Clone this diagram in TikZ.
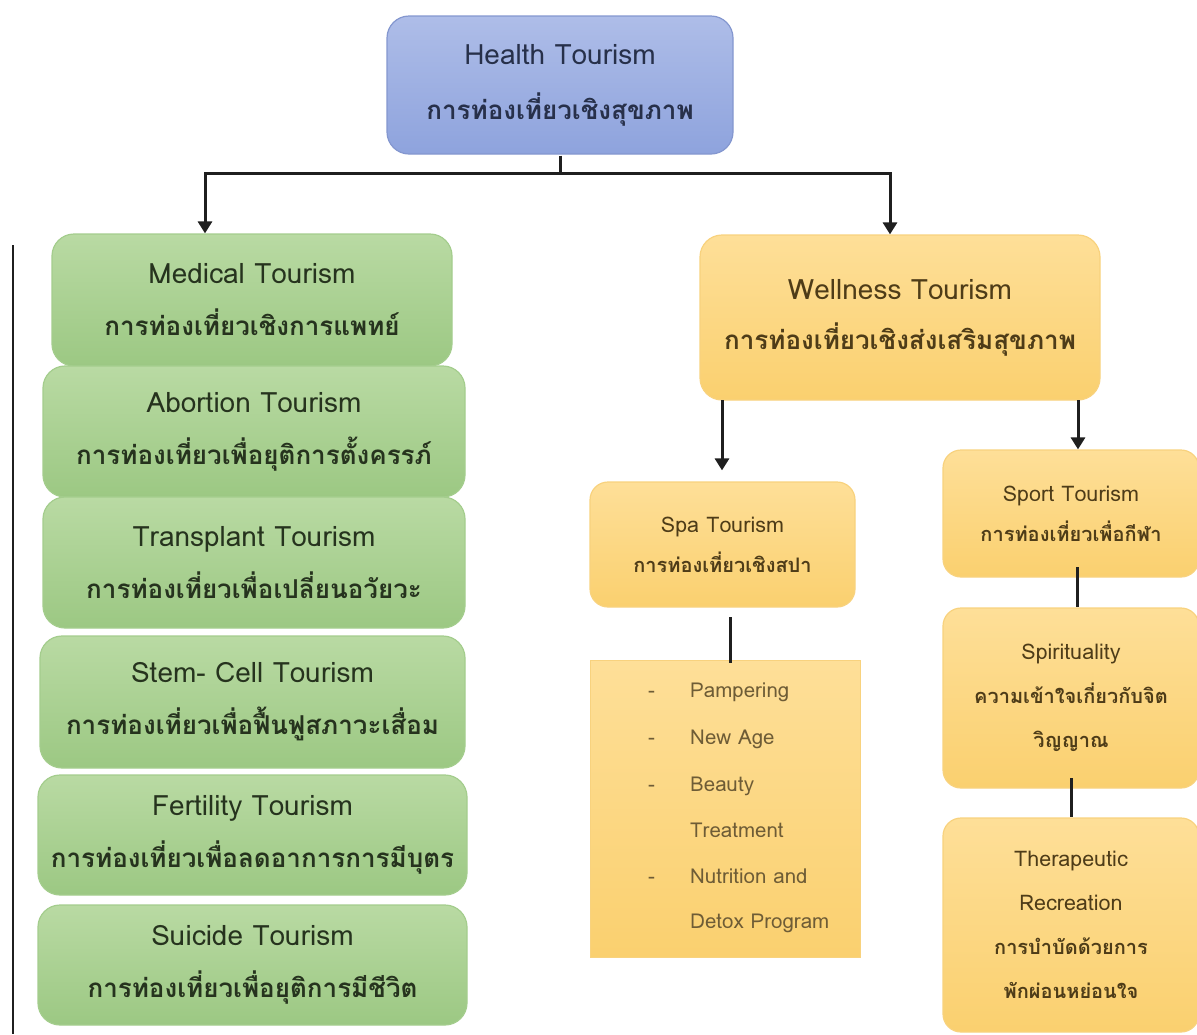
\documentclass[tikz,border=0pt]{standalone}
\usepackage{fontspec}
\setmainfont[Script=Thai]{Loma}
\usetikzlibrary{arrows.meta}

\definecolor{blueTop}{HTML}{AEBDE8}
\definecolor{blueBot}{HTML}{8EA3DD}
\definecolor{blueLine}{HTML}{8497CF}
\definecolor{greenTop}{HTML}{B9DAA3}
\definecolor{greenBot}{HTML}{9CC883}
\definecolor{greenLine}{HTML}{A4CD8D}
\definecolor{orangeTop}{HTML}{FEDF98}
\definecolor{orangeBot}{HTML}{FAD06F}
\definecolor{orangeLine}{HTML}{F8D27E}
\definecolor{blueInk}{HTML}{27304A}
\definecolor{greenInk}{HTML}{26331E}
\definecolor{orangeInk}{HTML}{4E3C18}
\definecolor{listInk}{HTML}{6E5C36}

% Latin title lines (big / small boxes) and bold Thai lines
\newcommand\latbig[1]{{\fontsize{28}{52}\selectfont #1}}
\newcommand\latsmall[1]{{\fontsize{21.5}{41}\selectfont #1}}
\newcommand\thl[1]{\textbf{#1}}

\tikzset{
  box/.style={rounded corners=22pt, line width=1.2pt, align=center,
              inner sep=0pt, anchor=center},
  bluebox/.style={box, draw=blueLine, top color=blueTop, bottom color=blueBot,
                  text=blueInk, font=\fontsize{26}{55}\selectfont},
  greenbox/.style={box, draw=greenLine, top color=greenTop, bottom color=greenBot,
                   text=greenInk, font=\fontsize{26}{52}\selectfont},
  orangebig/.style={box, draw=orangeLine, top color=orangeTop, bottom color=orangeBot,
                    text=orangeInk, font=\fontsize{26}{50}\selectfont},
  orangesmall/.style={box, rounded corners=18pt, draw=orangeLine, top color=orangeTop,
                      bottom color=orangeBot, text=orangeInk,
                      font=\fontsize{20}{40}\selectfont},
  orangetall/.style={orangesmall, font=\fontsize{20}{44}\selectfont},
  listbox/.style={draw=orangeLine, line width=1pt, top color=orangeTop,
                  bottom color=orangeBot, inner sep=0pt},
  listitem/.style={anchor=base west, inner sep=0pt, text=listInk,
                   font=\fontsize{20.5}{24}\selectfont},
  conn/.style={line width=3pt, draw=black!88},
  arr/.style={conn, -{Triangle[width=14pt,length=12pt]}},
}

\begin{document}
\begin{tikzpicture}[x=1pt, y=-1pt]
\useasboundingbox (0,0) rectangle (1197,1034);

% root
\node[bluebox, minimum width=346pt, minimum height=138pt] (health) at (560,85)
  {\latbig{Health Tourism}\\\thl{การท่องเที่ยวเชิงสุขภาพ}};

% medical branch (left column)
\node[greenbox, minimum width=400pt, minimum height=132pt] (medical) at (252,300)
  {\latbig{Medical Tourism}\\\thl{การท่องเที่ยวเชิงการแพทย์}};
\node[greenbox, minimum width=422pt, minimum height=131pt] (abortion) at (254,431.5)
  {\latbig{Abortion Tourism}\\\thl{การท่องเที่ยวเพื่อยุติการตั้งครรภ์}};
\node[greenbox, minimum width=422pt, minimum height=131pt] (transplant) at (254,562.5)
  {\latbig{Transplant Tourism}\\\thl{การท่องเที่ยวเพื่อเปลี่ยนอวัยวะ}};
\node[greenbox, minimum width=425pt, minimum height=132pt] (stemcell) at (252.5,702)
  {\latbig{Stem- Cell Tourism}\\\thl{การท่องเที่ยวเพื่อฟื้นฟูสภาวะเสื่อม}};
\node[greenbox, minimum width=429pt, minimum height=120pt] (fertility) at (252.5,835)
  {\latbig{Fertility Tourism}\\\thl{การท่องเที่ยวเพื่อลดอาการการมีบุตร}};
\node[greenbox, minimum width=429pt, minimum height=120pt] (suicide) at (252.5,965)
  {\latbig{Suicide Tourism}\\\thl{การท่องเที่ยวเพื่อยุติการมีชีวิต}};

% wellness branch
\node[orangebig, minimum width=400pt, minimum height=165pt] (wellness) at (900,317.5)
  {\latbig{Wellness Tourism}\\\thl{การท่องเที่ยวเชิงส่งเสริมสุขภาพ}};
\node[orangesmall, minimum width=265pt, minimum height=125pt] (spa) at (722.5,544.5)
  {\latsmall{Spa Tourism}\\\thl{การท่องเที่ยวเชิงสปา}};
\node[orangesmall, minimum width=256pt, minimum height=127pt] (sport) at (1071,513.5)
  {\latsmall{Sport Tourism}\\\thl{การท่องเที่ยวเพื่อกีฬา}};
\node[orangetall, minimum width=256pt, minimum height=180pt] (spirit) at (1071,698)
  {\latsmall{Spirituality}\\\thl{ความเข้าใจเกี่ยวกับจิต}\\\thl{วิญญาณ}};
\node[orangetall, minimum width=256pt, minimum height=214pt] (thera) at (1071,925)
  {\latsmall{Therapeutic}\\\latsmall{Recreation}\\\thl{การบำบัดด้วยการ}\\\thl{พักผ่อนหย่อนใจ}};

% spa activities list
\node[listbox, minimum width=270pt, minimum height=297pt] (spalist) at (725,808.5) {};
\node[listitem] (d1) at (648,697) {-};
\node[listitem] (t1) at (690,697) {Pampering};
\node[listitem] (d2) at (648,744) {-};
\node[listitem] (t2) at (690,744) {New Age};
\node[listitem] (d3) at (648,791) {-};
\node[listitem] (t3) at (690,791) {Beauty};
\node[listitem] (t4) at (690,837) {Treatment};
\node[listitem] (d5) at (648,883) {-};
\node[listitem] (t5) at (690,883) {Nutrition and};
\node[listitem] (t6) at (690,928) {Detox Program};

% connectors from the root
\coordinate (hub) at (560,173);
\coordinate (hl) at (205,173);
\coordinate (hr) at (890,173);
\draw[conn] ([yshift=-1pt]health.south) -- (hub);
\draw[conn, line cap=rect] (hl) -- (hr);
\draw[arr] (hl) -- (hl |- medical.north);
\draw[arr] (hr) -- (hr |- wellness.north);

% connectors inside the wellness branch
\coordinate (wl) at (722,400);
\coordinate (wr) at (1078,400);
\draw[arr, shorten >=11pt] (wl) -- (wl |- spa.north);
\draw[arr] (wr) -- (wr |- sport.north);
\coordinate (sl) at (730,617);
\draw[conn] (sl) -- ([yshift=-3pt]sl |- spalist.north);
\coordinate (sp) at (1077,567);
\draw[conn] (sp) -- (sp |- spirit.north);
\coordinate (sq) at (1071,778);
\draw[conn] (sq) -- (sq |- thera.north);

% side rule beside the medical column
\coordinate (rtop) at (13,245);
\coordinate (rbot) at (13,1034);
\draw[conn, line width=2.6pt] (rtop) -- (rbot);
\end{tikzpicture}
\end{document}
